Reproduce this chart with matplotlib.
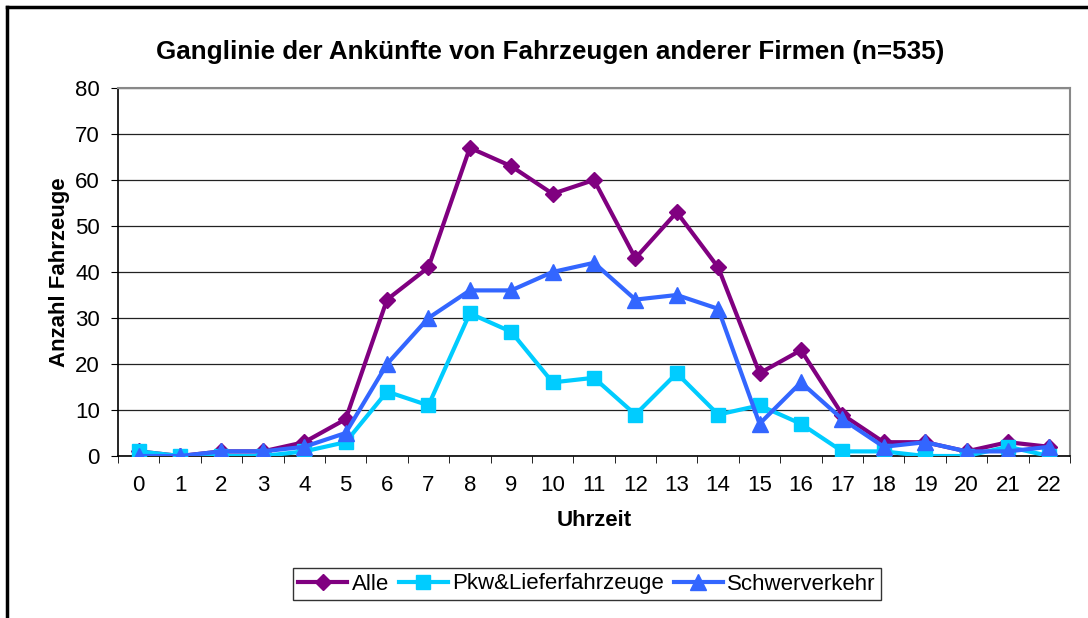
import matplotlib.pyplot as plt
import numpy as np
from matplotlib.lines import Line2D

plt.rcParams['font.family'] = ['Liberation Sans', 'DejaVu Sans']

# Data
hours = list(range(23))
alle = [1, 0, 1, 1, 3, 8, 34, 41, 67, 63, 57, 60, 43, 53, 41, 18, 23, 9, 3, 3, 1, 3, 2]
pkw = [1, 0, 0, 0, 1, 3, 14, 11, 31, 27, 16, 17, 9, 18, 9, 11, 7, 1, 1, 0, 0, 2, 0]
schwer = [0, 0, 1, 1, 2, 5, 20, 30, 36, 36, 40, 42, 34, 35, 32, 7, 16, 8, 2, 3, 1, 1, 2]

fig = plt.figure(figsize=(10.88, 6.18), dpi=100)
ax = fig.add_axes([118 / 1088, 1 - 456 / 618, 952 / 1088, 368 / 618])

# outer frame (left and top visible)
fig.add_artist(Line2D([7 / 1088, 7 / 1088], [0, 1 - 7 / 618], color='black', lw=2.5,
                      transform=fig.transFigure))
fig.add_artist(Line2D([7 / 1088, 1], [1 - 7 / 618, 1 - 7 / 618], color='black', lw=2.5,
                      transform=fig.transFigure))

ax.plot(hours, alle, color='#800080', lw=3, marker='D', ms=8.5, label='Alle', zorder=3)
ax.plot(hours, pkw, color='#00CCFF', lw=3, marker='s', ms=9.5, label='Pkw&Lieferfahrzeuge', zorder=4)
ax.plot(hours, schwer, color='#3366FF', lw=3, marker='^', ms=11, label='Schwerverkehr', zorder=5)

ax.set_xlim(-0.5, 22.5)
ax.set_ylim(0, 80)
ax.set_yticks(range(0, 81, 10))
ax.set_xticks(hours)
ax.set_xticks(np.arange(-0.5, 23, 1), minor=True)
ax.tick_params(axis='x', which='major', length=0, pad=14, labelsize=16)
ax.tick_params(axis='x', which='minor', length=5, direction='out', color='black')
ax.tick_params(axis='y', length=5, direction='out', labelsize=16, pad=8)
ax.yaxis.grid(True, color='#222222', lw=0.9)
ax.set_axisbelow(True)

for side in ['top', 'right']:
    ax.spines[side].set_color('#888888')
    ax.spines[side].set_linewidth(1.5)
for side in ['left', 'bottom']:
    ax.spines[side].set_color('black')
    ax.spines[side].set_linewidth(1.2)

fig.text(550 / 1088, 1 - 52 / 618, 'Ganglinie der Ankünfte von Fahrzeugen anderer Firmen (n=535)',
         fontsize=18.7, fontweight='bold', ha='center', va='center')
ax.set_xlabel('Uhrzeit', fontsize=16, fontweight='bold', labelpad=10)
ax.set_ylabel('Anzahl Fahrzeuge', fontsize=16, fontweight='bold', labelpad=4)

leg = fig.legend(loc='center', bbox_to_anchor=(587 / 1088, 1 - 584 / 618), ncol=3,
                 fontsize=16, frameon=True, fancybox=False, edgecolor='black',
                 handlelength=2.2, columnspacing=0.45, handletextpad=0.2, borderpad=0.25)
leg.get_frame().set_linewidth(1.0)

fig.savefig('out.png', dpi=100)
plt.close()
